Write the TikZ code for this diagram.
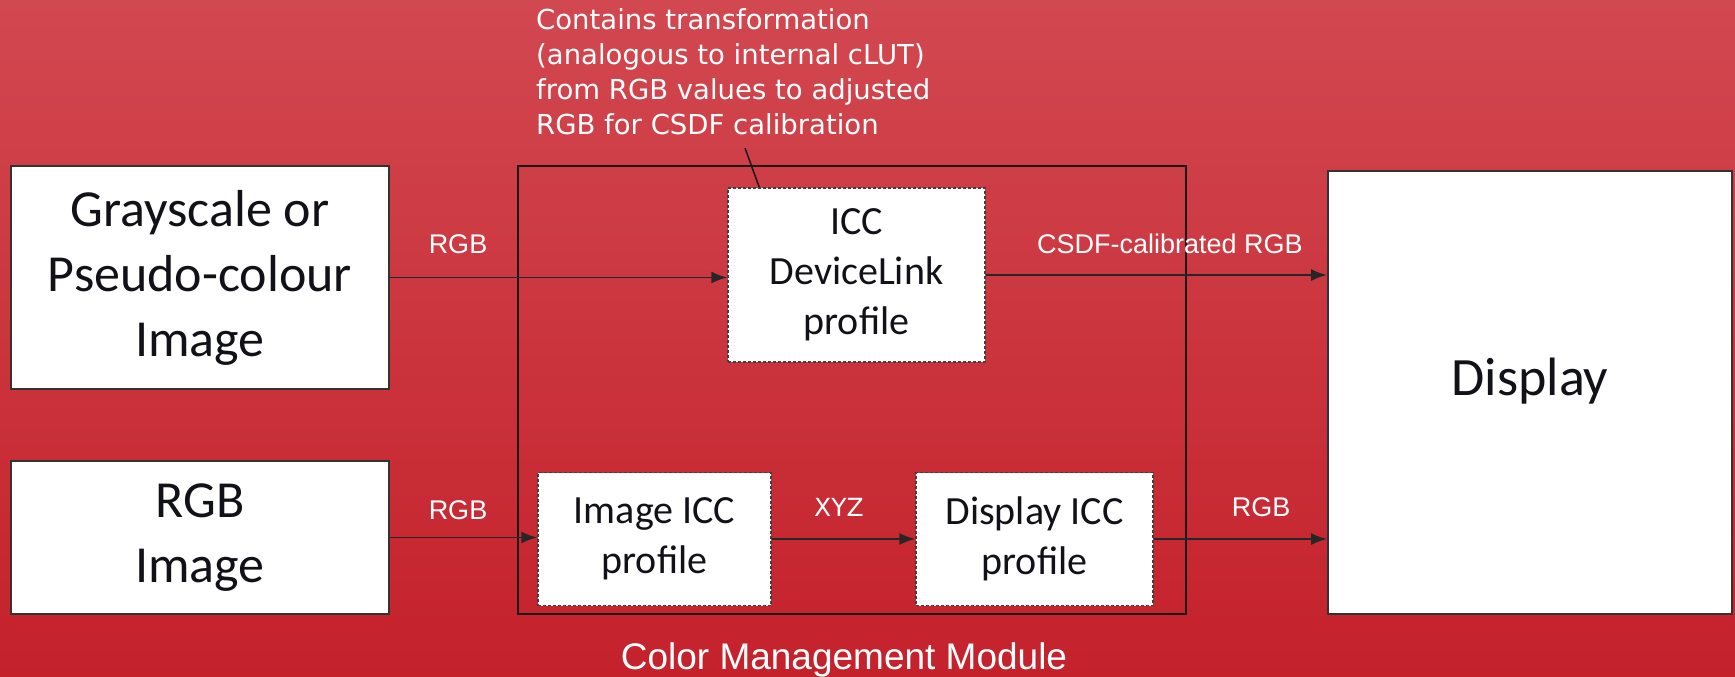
\documentclass[tikz,border=0pt]{standalone}
\usepackage{fontspec}
\usepackage{tikz}
\usetikzlibrary{arrows.meta}
\setmainfont{Carlito}
\newfontfamily\labelfont{Liberation Sans}
\newfontfamily\notefont{DejaVu Sans}
\definecolor{bgtop}{RGB}{210,72,80}
\definecolor{bgbot}{RGB}{196,33,43}
\definecolor{boxtext}{RGB}{17,17,24}
\tikzset{
	bigbox/.style={draw=black!80,fill=white,line width=2pt,align=center,text=boxtext,inner sep=0pt,font=\fontsize{52}{65}\selectfont},
	iccbox/.style={draw=black!75,densely dashed,fill=white,line width=1.5pt,align=center,text=boxtext,inner sep=0pt,font=\fontsize{40}{50}\selectfont},
	flowlabel/.style={text=white,anchor=base,inner sep=0pt,font=\labelfont\fontsize{27}{32}\selectfont},
	notetext/.style={text=white,align=left,inner sep=0pt,font=\notefont\fontsize{27.5}{35}\selectfont},
	arr/.style={-{Latex[length=16pt,width=12pt]},line width=1.8pt,draw=black!85}
}
\begin{document}
\begin{tikzpicture}[x=1pt,y=-1pt]
	\useasboundingbox (0,0) rectangle (1735,677);
	\shade[top color=bgtop,bottom color=bgbot] (0,0) rectangle (1735,677);
	\node[draw=black!90,line width=2pt,minimum width=668pt,minimum height=448pt,inner sep=0pt] (cmm) at (852,390) {};
	\node[bigbox,minimum width=378pt,minimum height=223pt] (gray) at (200,277.5) {Grayscale or\\Pseudo-colour\\Image};
	\node[bigbox,minimum width=378pt,minimum height=153pt] (rgbimg) at (200,537.5) {RGB\\Image};
	\node[bigbox,minimum width=404pt,minimum height=443pt,text depth=31pt,font=\fontsize{54}{65}\selectfont] (display) at (1530,392.5) {Display};
	\node[iccbox,minimum width=257pt,minimum height=174pt] (devlink) at (856.5,275) {ICC\\DeviceLink\\profile};
	\node[iccbox,minimum width=233pt,minimum height=133pt] (imgicc) at (654.5,539) {Image ICC\\profile};
	\node[iccbox,minimum width=237pt,minimum height=133pt] (dispicc) at (1034.5,539) {Display ICC\\profile};
	\draw[arr] (gray.east) -- (gray.east -| devlink.west);
	\draw[arr] (devlink.east) -- (devlink.east -| display.west);
	\draw[arr] (rgbimg.east) -- (rgbimg.east -| imgicc.west);
	\draw[arr] (imgicc) -- (dispicc);
	\draw[arr] (dispicc.east) -- (dispicc.east -| display.west);
	\node[flowlabel] (rgbin) at (458,253) {RGB};
	\node[flowlabel] (csdf) at (1170,253) {CSDF-calibrated RGB};
	\node[flowlabel] (rgbin2) at (458,519) {RGB};
	\node[flowlabel,font=\notefont\fontsize{25}{30}\selectfont] (xyz) at (839,516) {XYZ};
	\node[flowlabel] (rgbout) at (1261,516) {RGB};
	\node[flowlabel,font=\labelfont\fontsize{37}{44}\selectfont] (cmmname) at (844,669) {Color Management Module};
	\node[notetext,anchor=north west] (note) at (536,8) {Contains transformation\\(analogous to internal cLUT)\\from RGB values to adjusted\\RGB for CSDF calibration};
	\coordinate (notetip) at (745,148);
	\draw[line width=1.5pt,black!90] (notetip) -- ([xshift=32pt]devlink.north west);
\end{tikzpicture}
\end{document}
